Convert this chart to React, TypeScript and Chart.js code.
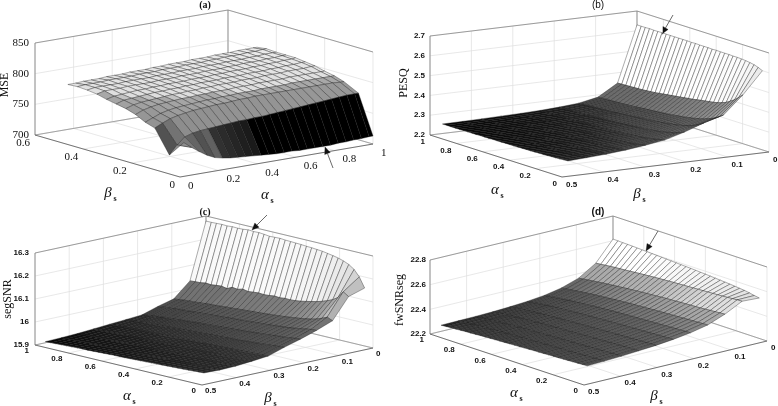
import React, { useEffect, useRef } from "react";
import { Chart, registerables } from "chart.js";

Chart.register(...registerables);

// ---- panel (a): MSE. One row per beta, one value per alpha.
const alphaA = [0.02,0.06,0.1,0.14,0.18,0.22,0.26,0.3,0.34,0.38,0.42,0.46,0.5,0.54,0.58,0.62,0.66,0.7,0.74,0.78,0.82,0.86,0.9,0.94,0.98,1];
const betaA = [0,0.06,0.12,0.16,0.2,0.24,0.28,0.32,0.36,0.4,0.44,0.48];
const mse = [
[755,745,736,728,722,719,717,716,715,714,713,712,711,711,711,710,710,710,710,710,711,711,712,712,713,713],
[728,742,753,757,759,760,761,762,763,764,764,765,765,766,767,768,769,770,771,772,773,774,775,776,776,776],
[765,771,776,779,781,783,784,785,786,786,787,788,788,789,789,789,789,789,789,789,789,789,789,789,788,788],
[770,775,780,783,785,786,787,788,789,789,790,790,791,791,791,792,792,792,792,793,793,793,793,793,793,793],
[778,783,786,788,789,790,791,791,792,792,793,793,793,794,794,794,795,795,795,795,796,796,796,796,796,796],
[783,787,789,790,791,792,793,793,794,794,795,795,796,796,796,797,797,797,798,798,798,799,799,799,800,800],
[786,790,791,792,793,794,794,795,795,796,796,797,797,797,798,798,798,799,799,799,800,800,801,801,802,802],
[789,792,793,794,795,795,796,796,797,797,797,798,798,798,799,799,800,800,800,801,801,802,802,803,803,804],
[793,796,796,796,797,797,797,797,798,798,798,799,799,799,800,800,800,801,801,802,802,802,803,803,804,804],
[795,797,797,797,797,798,798,798,798,799,799,799,800,800,800,801,801,801,802,802,802,803,803,804,804,804],
[796,797,797,797,798,798,798,798,799,799,799,800,800,800,801,801,801,802,802,803,803,803,804,804,805,805],
[795,795,796,796,796,797,797,797,798,798,798,799,799,800,800,800,801,801,801,802,802,802,803,803,803,803],
];

// ---- panels (b), (c), (d) share the same alpha / beta sampling
const alphaS = [0.05,0.082,0.113,0.145,0.177,0.208,0.24,0.272,0.303,0.335,0.367,0.398,0.43,0.462,0.493,0.525,0.557,0.588,0.62,0.652,0.683,0.715,0.747,0.778,0.81,0.842,0.873,0.905,0.937,0.968,1];
const betaS = [0,0.047,0.094,0.141,0.188,0.235,0.282,0.329,0.376,0.423,0.47];

const pesq = [
[2.6,2.61,2.617,2.621,2.624,2.626,2.627,2.627,2.628,2.628,2.628,2.629,2.628,2.629,2.629,2.629,2.63,2.629,2.63,2.63,2.63,2.63,2.63,2.63,2.631,2.63,2.63,2.631,2.63,2.63,2.63],
[2.49,2.47,2.452,2.438,2.425,2.417,2.41,2.405,2.402,2.398,2.395,2.391,2.387,2.384,2.381,2.378,2.375,2.372,2.369,2.366,2.363,2.36,2.358,2.356,2.354,2.353,2.352,2.351,2.35,2.349,2.348],
[2.4,2.385,2.372,2.362,2.354,2.347,2.341,2.336,2.332,2.328,2.325,2.322,2.319,2.316,2.314,2.312,2.31,2.308,2.306,2.304,2.302,2.3,2.298,2.297,2.295,2.294,2.293,2.292,2.291,2.29,2.289],
[2.372,2.358,2.347,2.338,2.331,2.325,2.32,2.316,2.312,2.309,2.306,2.303,2.3,2.298,2.296,2.294,2.292,2.29,2.288,2.286,2.284,2.282,2.28,2.279,2.278,2.276,2.275,2.274,2.272,2.271,2.27],
[2.338,2.328,2.32,2.314,2.309,2.304,2.3,2.297,2.294,2.291,2.289,2.287,2.285,2.283,2.281,2.279,2.277,2.276,2.274,2.273,2.272,2.27,2.269,2.268,2.267,2.266,2.265,2.264,2.263,2.263,2.262],
[2.31,2.304,2.299,2.295,2.291,2.288,2.285,2.283,2.281,2.279,2.277,2.275,2.274,2.272,2.271,2.27,2.268,2.267,2.266,2.265,2.264,2.263,2.262,2.261,2.261,2.26,2.259,2.259,2.258,2.258,2.257],
[2.295,2.29,2.286,2.283,2.28,2.278,2.276,2.274,2.272,2.271,2.269,2.268,2.267,2.266,2.265,2.264,2.263,2.262,2.261,2.26,2.259,2.259,2.258,2.257,2.257,2.256,2.256,2.255,2.255,2.254,2.254],
[2.283,2.279,2.276,2.274,2.272,2.27,2.268,2.267,2.266,2.264,2.263,2.262,2.261,2.26,2.26,2.259,2.258,2.258,2.257,2.256,2.256,2.255,2.255,2.254,2.254,2.254,2.253,2.253,2.253,2.252,2.252],
[2.274,2.271,2.269,2.267,2.266,2.264,2.263,2.262,2.261,2.26,2.259,2.258,2.258,2.257,2.256,2.256,2.255,2.255,2.254,2.254,2.253,2.253,2.253,2.252,2.252,2.252,2.251,2.251,2.251,2.25,2.25],
[2.268,2.266,2.264,2.263,2.261,2.26,2.259,2.258,2.258,2.257,2.256,2.256,2.255,2.255,2.254,2.254,2.253,2.253,2.252,2.252,2.252,2.251,2.251,2.251,2.25,2.25,2.25,2.25,2.249,2.249,2.249],
[2.263,2.262,2.26,2.259,2.258,2.257,2.256,2.256,2.255,2.254,2.254,2.253,2.253,2.252,2.252,2.252,2.251,2.251,2.251,2.25,2.25,2.25,2.249,2.249,2.249,2.249,2.248,2.248,2.248,2.248,2.248],
];

const segSnr = [
[16.152,16.195,16.222,16.238,16.248,16.255,16.26,16.264,16.268,16.27,16.272,16.273,16.275,16.276,16.277,16.278,16.28,16.279,16.278,16.281,16.283,16.282,16.284,16.281,16.28,16.281,16.279,16.28,16.279,16.278,16.278],
[16.13,16.145,16.115,16.1,16.09,16.082,16.075,16.07,16.065,16.06,16.057,16.055,16.056,16.053,16.055,16.052,16.05,16.052,16.05,16.047,16.052,16.046,16.049,16.038,16.043,16.041,16.038,16.04,16.036,16.035,16.033],
[16.04,16.05,16.04,16.031,16.025,16.021,16.017,16.014,16.011,16.008,16.006,16.004,16.002,16,15.998,15.997,15.995,15.994,15.992,15.99,15.989,15.987,15.985,15.984,15.982,15.98,15.978,15.977,15.975,15.972,15.97],
[16.013,16.012,16.008,16.004,16,15.997,15.994,15.992,15.99,15.988,15.986,15.985,15.983,15.981,15.98,15.978,15.977,15.975,15.974,15.972,15.971,15.969,15.968,15.966,15.964,15.963,15.961,15.959,15.957,15.955,15.952],
[15.99,15.988,15.985,15.982,15.98,15.978,15.976,15.974,15.972,15.97,15.968,15.967,15.965,15.964,15.962,15.961,15.959,15.958,15.956,15.955,15.953,15.952,15.95,15.948,15.946,15.944,15.942,15.94,15.937,15.934,15.93],
[15.97,15.968,15.966,15.964,15.962,15.96,15.958,15.957,15.955,15.954,15.953,15.951,15.95,15.949,15.948,15.946,15.945,15.944,15.943,15.941,15.94,15.939,15.938,15.936,15.935,15.933,15.932,15.93,15.929,15.927,15.925],
[15.947,15.946,15.945,15.944,15.943,15.942,15.941,15.94,15.939,15.938,15.937,15.936,15.936,15.935,15.934,15.933,15.932,15.932,15.931,15.93,15.929,15.928,15.927,15.927,15.926,15.925,15.924,15.923,15.922,15.921,15.92],
[15.94,15.939,15.938,15.937,15.936,15.935,15.934,15.934,15.933,15.932,15.931,15.93,15.93,15.929,15.928,15.927,15.926,15.926,15.925,15.924,15.923,15.923,15.922,15.921,15.92,15.92,15.919,15.918,15.917,15.916,15.915],
[15.934,15.933,15.932,15.931,15.931,15.93,15.929,15.928,15.928,15.927,15.926,15.925,15.925,15.924,15.923,15.922,15.922,15.921,15.92,15.919,15.919,15.918,15.917,15.916,15.916,15.915,15.914,15.913,15.912,15.911,15.91],
[15.932,15.931,15.93,15.929,15.928,15.927,15.927,15.926,15.925,15.924,15.924,15.923,15.922,15.921,15.921,15.92,15.919,15.918,15.917,15.917,15.916,15.915,15.914,15.914,15.913,15.912,15.911,15.91,15.909,15.908,15.907],
[15.934,15.933,15.932,15.93,15.929,15.928,15.927,15.926,15.925,15.924,15.923,15.922,15.921,15.92,15.919,15.918,15.917,15.917,15.916,15.915,15.914,15.913,15.912,15.912,15.911,15.91,15.909,15.908,15.907,15.906,15.905],
];

const fwSnr = [
[22.528,22.535,22.543,22.55,22.554,22.558,22.562,22.565,22.568,22.571,22.574,22.577,22.579,22.582,22.584,22.586,22.588,22.59,22.592,22.594,22.596,22.598,22.6,22.602,22.604,22.606,22.608,22.609,22.61,22.612,22.613],
[22.535,22.533,22.53,22.527,22.524,22.522,22.52,22.518,22.516,22.514,22.512,22.51,22.508,22.506,22.504,22.502,22.499,22.497,22.494,22.491,22.488,22.485,22.481,22.478,22.474,22.471,22.468,22.464,22.46,22.455,22.451],
[22.464,22.461,22.458,22.455,22.452,22.449,22.447,22.445,22.443,22.441,22.438,22.436,22.434,22.431,22.428,22.425,22.422,22.419,22.416,22.412,22.409,22.405,22.401,22.397,22.393,22.389,22.384,22.379,22.374,22.369,22.363],
[22.41,22.408,22.406,22.404,22.402,22.4,22.398,22.396,22.394,22.392,22.39,22.388,22.385,22.383,22.38,22.378,22.375,22.372,22.369,22.366,22.362,22.359,22.355,22.351,22.347,22.343,22.338,22.333,22.328,22.322,22.317],
[22.38,22.378,22.376,22.374,22.372,22.37,22.368,22.366,22.364,22.362,22.36,22.358,22.356,22.354,22.351,22.349,22.346,22.343,22.34,22.337,22.334,22.33,22.327,22.323,22.319,22.315,22.31,22.306,22.301,22.296,22.29],
[22.36,22.358,22.356,22.354,22.352,22.35,22.348,22.346,22.344,22.342,22.34,22.338,22.336,22.334,22.332,22.329,22.327,22.324,22.322,22.319,22.316,22.313,22.31,22.306,22.303,22.299,22.295,22.291,22.286,22.281,22.275],
[22.345,22.343,22.341,22.339,22.337,22.335,22.333,22.331,22.329,22.327,22.325,22.323,22.321,22.319,22.317,22.315,22.312,22.31,22.307,22.305,22.302,22.299,22.296,22.293,22.29,22.287,22.283,22.279,22.275,22.27,22.265],
[22.335,22.333,22.331,22.329,22.327,22.325,22.323,22.321,22.319,22.317,22.315,22.313,22.311,22.309,22.307,22.305,22.303,22.3,22.298,22.296,22.293,22.29,22.288,22.285,22.282,22.278,22.275,22.271,22.267,22.263,22.258],
[22.325,22.323,22.321,22.319,22.317,22.315,22.313,22.311,22.309,22.307,22.305,22.304,22.302,22.3,22.298,22.296,22.294,22.292,22.29,22.288,22.285,22.283,22.28,22.278,22.275,22.272,22.269,22.266,22.262,22.258,22.254],
[22.318,22.316,22.314,22.312,22.31,22.308,22.306,22.304,22.303,22.301,22.299,22.298,22.296,22.294,22.292,22.29,22.288,22.286,22.284,22.282,22.28,22.278,22.275,22.273,22.27,22.268,22.265,22.262,22.259,22.255,22.252],
[22.313,22.311,22.309,22.307,22.305,22.303,22.301,22.3,22.298,22.296,22.294,22.293,22.291,22.289,22.287,22.285,22.283,22.281,22.279,22.277,22.275,22.273,22.271,22.268,22.266,22.264,22.261,22.258,22.256,22.253,22.25],
];

// axis ticks
const msTicks = [700,750,800,850];
const pesqTicks = [2.2,2.3,2.4,2.5,2.6,2.7];
const segTicks = [15.9,16,16.1,16.2,16.3];
const fwTicks = [22.2,22.4,22.6,22.8];
const alphaTicks = [0,0.2,0.4,0.6,0.8,1];
const betaTicksA = [0,0.2,0.4,0.6];
const betaTicksS = [0,0.1,0.2,0.3,0.4,0.5];

// grey level (0..1) as a function of the surface value
const shadeA = [[713,0],[714,0.1],[717,0.17],[719.5,0.2],[722,0.38],[728,0.32],[742,0.45],[752,0.55],[776,0.6],[789,0.66],[791,0.87],[805,0.92]];
const shadeB = [[2.248,0.02],[2.26,0.1],[2.29,0.28],[2.35,0.42],[2.45,0.6],[2.6,0.92],[2.63,1]];
const shadeC = [[15.905,0.02],[15.93,0.16],[15.97,0.3],[16.04,0.45],[16.15,0.75],[16.28,0.98]];
const shadeD = [[22.25,0.1],[22.26,0.2],[22.3,0.28],[22.36,0.38],[22.45,0.65],[22.5,0.7],[22.52,0.85],[22.6,1]];

const W = 778, H = 406;
const TICK_SANS = "bold 8px 'Liberation Sans'";
const TICK_SERIF = "11px 'Liberation Serif'";

const panels = [
  { tag:"(a)", tagAt:[205,5], tagFont:"bold 10px 'Liberation Serif'", zName:"MSE", zAt:[5,85], zFont:"12px 'Liberation Serif'",
    aSym:[265,195], bSym:[108,193], o:[180,177], va:[193,-33], vb:[-145,-42], bMax:0.6, h:92,
    z0:700, z1:850, zTicks:msTicks, aTicks:alphaTicks, bTicks:betaTicksA, alpha:alphaA, beta:betaA, rows:mse, shade:shadeA,
    backB:0.6, frontB:0, leftA:0, leftB:0.6, rowsBackFirst:true, tickFont:TICK_SERIF,
    aLab:{dx:8,dy:9,align:"left"}, bLab:{dx:-5,dy:8,align:"right"}, zDx:-6, arrow:[[333,168],[325,147]] },
  { tag:"(b)", tagAt:[598,5], tagFont:"10px 'Liberation Sans'", zName:"PESQ", zAt:[404,83], zFont:"12px 'Liberation Serif'",
    aSym:[495,190], bSym:[637,194], o:[769,152], va:[-132,-42], vb:[-207,25], bMax:0.5, h:99,
    z0:2.2, z1:2.7, zTicks:pesqTicks, aTicks:alphaTicks, bTicks:betaTicksS, alpha:alphaS, beta:betaS, rows:pesq, shade:shadeB,
    backB:0, frontB:0.5, leftA:1, leftB:0.5, rowsBackFirst:false, tickFont:TICK_SANS,
    aLab:{dx:-5,dy:7,align:"right"}, bLab:{dx:4,dy:8,align:"left"}, zDx:-5, arrow:[[673,15],[662,34]] },
  { tag:"(c)", tagAt:[205,212], tagFont:"bold 10px 'Liberation Serif'", zName:"segSNR", zAt:[8,299], zFont:"12px 'Liberation Serif'",
    aSym:[127,396], bSym:[268,398], o:[373,348], va:[-167,-40], vb:[-171,37], bMax:0.5, h:92,
    z0:15.9, z1:16.3, zTicks:segTicks, aTicks:alphaTicks, bTicks:betaTicksS, alpha:alphaS, beta:betaS, rows:segSnr, shade:shadeC,
    backB:0, frontB:0.5, leftA:1, leftB:0.5, rowsBackFirst:false, tickFont:TICK_SANS,
    aLab:{dx:-6,dy:6,align:"right"}, bLab:{dx:3,dy:6,align:"left"}, zDx:-6, arrow:[[267,215],[252,230]] },
  { tag:"(d)", tagAt:[598,212], tagFont:"bold 10px 'Liberation Sans'", zName:"fwSNRseg", zAt:[400,300], zFont:"12px 'Liberation Serif'",
    aSym:[514,393], bSym:[654,396], o:[767,341], va:[-154,-51], vb:[-183,44], bMax:0.5, h:74,
    z0:22.2, z1:22.8, zTicks:fwTicks, aTicks:alphaTicks, bTicks:betaTicksS, alpha:alphaS, beta:betaS, rows:fwSnr, shade:shadeD,
    backB:0, frontB:0.5, leftA:1, leftB:0.5, rowsBackFirst:false, tickFont:TICK_SANS,
    aLab:{dx:-6,dy:6,align:"right"}, bLab:{dx:4,dy:7,align:"left"}, zDx:-4, arrow:[[658,231],[646,251]] },
];

type Pt = { x: number; y: number };

function proj(p: any, a: number, b: number, z: number): Pt {
  const f = b / p.bMax;
  return {
    x: p.o[0] + a * p.va[0] + f * p.vb[0],
    y: p.o[1] + a * p.va[1] + f * p.vb[1] - ((z - p.z0) / (p.z1 - p.z0)) * p.h,
  };
}

function grey(stops: number[][], v: number): string {
  let g = stops[stops.length - 1][1];
  if (v <= stops[0][0]) g = stops[0][1];
  else for (let i = 1; i < stops.length; i++) {
    if (v <= stops[i][0]) {
      const t = (v - stops[i - 1][0]) / (stops[i][0] - stops[i - 1][0]);
      g = stops[i - 1][1] + t * (stops[i][1] - stops[i - 1][1]);
      break;
    }
  }
  const c = Math.round(g * 255);
  return `rgb(${c},${c},${c})`;
}

function seg(points: Pt[], color: string, width: number) {
  return { data: points, showLine: true, borderColor: color, borderWidth: width, pointRadius: 0, fill: false, tension: 0 };
}
function poly(points: Pt[], fillColor: string, line: string, width: number) {
  return { data: [...points, points[0]], showLine: true, borderColor: line, borderWidth: width, backgroundColor: fillColor, pointRadius: 0, fill: "shape", tension: 0 };
}

function frame(p: any): any[] {
  const out: any[] = [];
  const GRID = "#dedede", EDGE = "#7a7a7a", AXIS = "#555555";
  const bk = p.backB, fr = p.frontB;
  for (const t of p.aTicks) {
    out.push(seg([proj(p,t,fr,p.z0), proj(p,t,bk,p.z0), proj(p,t,bk,p.z1)], GRID, 0.7));
  }
  for (const t of p.bTicks) {
    out.push(seg([proj(p,0,t,p.z0), proj(p,1,t,p.z0), proj(p,1,t,p.z1)], GRID, 0.7));
  }
  for (const t of p.zTicks) {
    out.push(seg([proj(p,1,fr,t), proj(p,1,bk,t), proj(p,0,bk,t)], GRID, 0.7));
  }
  // the two walls' outer edges
  out.push(seg([proj(p,1,fr,p.z1), proj(p,1,bk,p.z1), proj(p,0,bk,p.z1)], EDGE, 0.7));
  out.push(seg([proj(p,1,bk,p.z0), proj(p,1,bk,p.z1)], EDGE, 0.7));
  out.push(seg([proj(p,1,fr,p.z0), proj(p,1,bk,p.z0), proj(p,0,bk,p.z0)], EDGE, 0.6));
  // the vertical value axis and the two front axes
  out.push(seg([proj(p,p.leftA,p.leftB,p.z0), proj(p,p.leftA,p.leftB,p.z1)], EDGE, 0.8));
  out.push(seg([proj(p,1,fr,p.z0), proj(p,0,fr,p.z0), proj(p,0,bk,p.z0)], AXIS, 0.8));
  return out;
}

function surface(p: any): any[] {
  const out: any[] = [];
  const nr = p.beta.length, nc = p.alpha.length;
  const rowIdx = [...Array(nr - 1).keys()];
  if (p.rowsBackFirst) rowIdx.reverse();
  for (const i of rowIdx) {
    for (let j = nc - 2; j >= 0; j--) {
      const r0 = p.rows[i], r1 = p.rows[i + 1];
      out.push(poly([
        proj(p,p.alpha[j],p.beta[i],r0[j]),
        proj(p,p.alpha[j+1],p.beta[i],r0[j+1]),
        proj(p,p.alpha[j+1],p.beta[i+1],r1[j+1]),
        proj(p,p.alpha[j],p.beta[i+1],r1[j]),
      ], grey(p.shade, r0[j]), "rgba(20,20,20,0.7)", 0.5));
    }
  }
  return out;
}

function arrow(p: any): any[] {
  const [tail, tip] = p.arrow;
  const dx = tip[0]-tail[0], dy = tip[1]-tail[1], len = Math.hypot(dx,dy);
  const ux = dx/len, uy = dy/len;
  const base = { x: tip[0]-ux*7, y: tip[1]-uy*7 };
  return [
    seg([{x:tail[0],y:tail[1]}, base], "#444", 0.8),
    poly([{x:tip[0],y:tip[1]}, {x:base.x-uy*3,y:base.y+ux*3}, {x:base.x+uy*3,y:base.y-ux*3}], "#111", "#111", 0.3),
  ];
}

const textPlugin = {
  id: "panelText",
  afterDraw(chart: any) {
    const ctx = chart.ctx;
    const put = (s: string, x: number, y: number, font: string, align: string = "center", rot = 0) => {
      ctx.save();
      ctx.translate(x, y);
      if (rot) ctx.rotate(rot);
      ctx.font = font; ctx.fillStyle = "#111"; ctx.textAlign = align; ctx.textBaseline = "middle";
      ctx.fillText(s, 0, 0);
      ctx.restore();
    };
    for (const p of panels) {
      put(p.tag, p.tagAt[0], p.tagAt[1], p.tagFont);
      put(p.zName, p.zAt[0], p.zAt[1], p.zFont, "center", -Math.PI / 2);
      for (const t of p.zTicks) {
        const q = proj(p,p.leftA,p.leftB,t);
        put(String(t), q.x + p.zDx, q.y, p.tickFont, "right");
      }
      for (const t of p.aTicks) {
        const q = proj(p,t,p.frontB,p.z0);
        put(String(t), q.x + p.aLab.dx, q.y + p.aLab.dy, p.tickFont, p.aLab.align);
      }
      for (const t of p.bTicks) {
        const q = proj(p,0,t,p.z0);
        put(String(t), q.x + p.bLab.dx, q.y + p.bLab.dy, p.tickFont, p.bLab.align);
      }
      put("α", p.aSym[0], p.aSym[1], "italic 15px 'Liberation Serif'");
      put("s", p.aSym[0] + 7, p.aSym[1] + 6, "bold 8px 'Liberation Serif'");
      put("β", p.bSym[0], p.bSym[1], "italic 15px 'Liberation Serif'");
      put("s", p.bSym[0] + 7, p.bSym[1] + 6, "bold 8px 'Liberation Serif'");
    }
  },
};

export default function App() {
  const ref = useRef<HTMLCanvasElement | null>(null);
  useEffect(() => {
    document.body.style.margin = "0";
    const paint: any[] = [];
    for (const p of panels) paint.push(...frame(p), ...surface(p), ...arrow(p));
    // Chart.js paints the last dataset first
    const datasets = paint.reverse();
    const chart = new Chart(ref.current as HTMLCanvasElement, {
      type: "scatter",
      data: { datasets },
      options: {
        responsive: false,
        animation: false,
        events: [],
        layout: { padding: 0 },
        scales: {
          x: { type: "linear", display: false, min: 0, max: W },
          y: { type: "linear", display: false, min: 0, max: H, reverse: true },
        },
        plugins: { legend: { display: false }, tooltip: { enabled: false }, title: { display: false } },
      },
      plugins: [textPlugin],
    } as any);
    return () => chart.destroy();
  }, []);
  return <canvas ref={ref} width={W} height={H} style={{ display: "block", background: "#fff" }} />;
}
